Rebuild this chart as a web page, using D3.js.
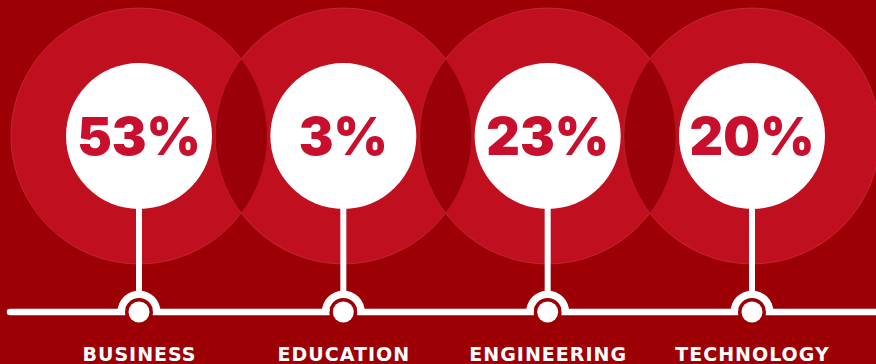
<!DOCTYPE html>
<html><head><meta charset="utf-8">
<script src="https://cdn.jsdelivr.net/npm/d3@7"></script>
<style>html,body{margin:0;padding:0;background:#9c0005;overflow:hidden}</style>
</head><body>
<svg id="c" width="876" height="364"></svg>
<script>
const categories = ["BUSINESS", "EDUCATION", "ENGINEERING", "TECHNOLOGY"];
const values = [53, 3, 23, 20];
const valueLabels = ["53%", "3%", "23%", "20%"];

const W = 876, H = 364;
const BG = "#9c0005";
const svg = d3.select("#c");
const x = d3.scalePoint().domain(categories).range([139, 752]);
const cy = 136, R = 128, r = 73, lineY = 312;

svg.append("rect").attr("width", W).attr("height", H).attr("fill", BG);

const defs = svg.append("defs");
categories.forEach((c, i) => {
  defs.append("clipPath").attr("id", "clip" + i)
    .append("circle").attr("cx", x(c)).attr("cy", cy).attr("r", R);
});

svg.selectAll("circle.big").data(categories).join("circle")
  .attr("class", "big").attr("cx", d => x(d)).attr("cy", cy).attr("r", R)
  .attr("fill", "#c0101f").attr("stroke", "#cc3a48").attr("stroke-width", 0.6);

for (let i = 0; i < categories.length - 1; i++) {
  svg.append("g").attr("clip-path", `url(#clip${i})`)
    .append("circle").attr("cx", x(categories[i + 1])).attr("cy", cy).attr("r", R)
    .attr("fill", "#990007").attr("stroke", "#b02030").attr("stroke-width", 0.6);
}

// horizontal line
svg.append("line").attr("x1", 10).attr("x2", W).attr("y1", lineY).attr("y2", lineY)
  .attr("stroke", "#fff").attr("stroke-width", 6.5).attr("stroke-linecap", "round");

const g = svg.selectAll("g.item").data(categories).join("g").attr("class", "item")
  .attr("transform", d => `translate(${x(d)},0)`);

// gap around node
g.append("circle").attr("cx", 0).attr("cy", lineY).attr("r", 14).attr("fill", BG);
// node arc ring (upper half)
const arc = d3.arc().innerRadius(14).outerRadius(21.5).startAngle(-Math.PI / 2).endAngle(Math.PI / 2);
g.append("path").attr("d", arc).attr("transform", `translate(0,${lineY})`).attr("fill", "#fff");
g.append("circle").attr("cx", 0).attr("cy", lineY).attr("r", 10.5).attr("fill", "#fff");
// stem
g.append("rect").attr("x", -3).attr("y", cy + r - 4).attr("width", 6)
  .attr("height", (lineY - 20) - (cy + r - 4)).attr("fill", "#fff");
// white circle
g.append("circle").attr("cx", 0).attr("cy", cy).attr("r", r).attr("fill", "#fff");
g.append("text").attr("x", 0).attr("y", cy + 19).attr("text-anchor", "middle")
  .attr("font-family", "Inter, 'Open Sans', sans-serif").attr("font-weight", 900)
  .attr("font-size", 52).attr("fill", "#c8102e")
  .text((d, i) => valueLabels[i]);
const ls = 1.0;
g.append("text").attr("x", 0).attr("dx", ls / 2).attr("y", 361).attr("text-anchor", "middle")
  .attr("font-family", "'DejaVu Sans', sans-serif").attr("font-weight", 700)
  .attr("font-size", 19).attr("letter-spacing", ls).attr("fill", "#fff")
  .text(d => d);
</script>
</body></html>
